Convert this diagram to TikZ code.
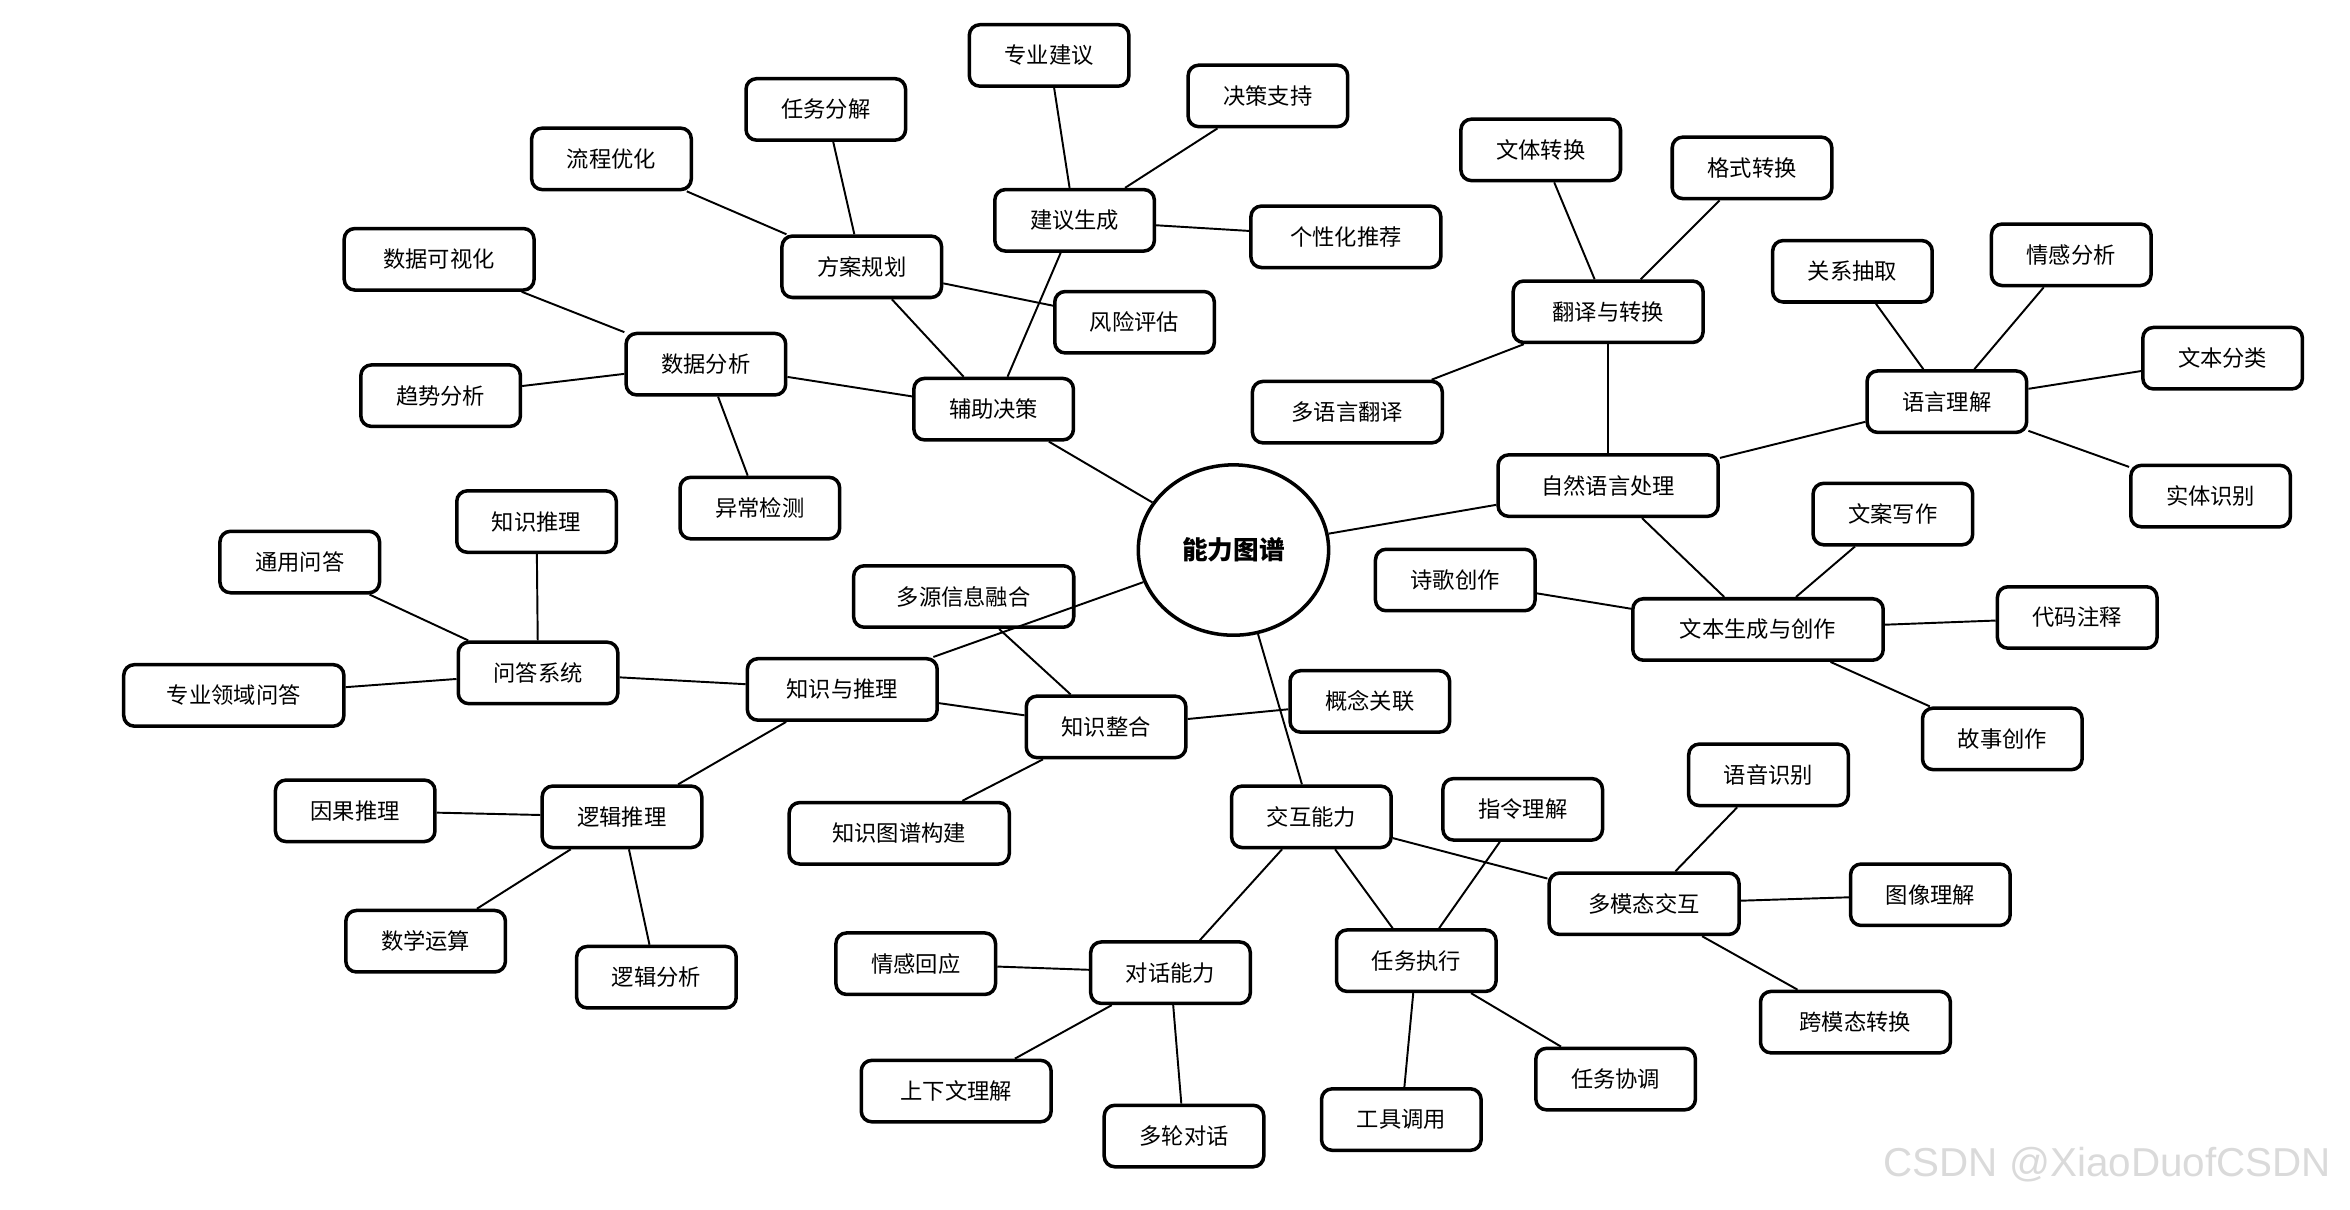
\documentclass[tikz,border=0pt]{standalone}
\usepackage{fontspec}
\setmainfont{Noto Sans CJK SC}
\newfontfamily\markfont{Liberation Sans}
\usetikzlibrary{shapes.geometric}
\definecolor{markgray}{RGB}{218,218,218}

\begin{document}
\begin{tikzpicture}[
  x=0.03cm, y=-0.03cm,
  skill/.style={draw, fill=white, line width=2pt, rounded corners=6pt, inner sep=0pt,
    minimum height=1.23cm, minimum width={0.77cm+#1*0.606cm}, font=\fontsize{12.7}{15}\selectfont},
  skill/.default=4,
  hub/.style={draw, ellipse, fill=white, line width=2pt, minimum width=3.81cm, minimum height=3.41cm,
    font=\fontsize{14.6}{17}\selectfont\bfseries},
  link/.style={line width=1.1pt}
]
\useasboundingbox (0,0) rectangle (1568,807);

% centre
\node[hub] (hub) at (823,367) {能力图谱};

% decision support
\node[skill] (decide) at (663,273) {辅助决策};
\node[skill] (advise) at (717,147) {建议生成};
\node[skill] (expert) at (700,37) {专业建议};
\node[skill] (support) at (846,64) {决策支持};
\node[skill=5] (personal) at (898,158) {个性化推荐};
\node[skill] (plan) at (575,178) {方案规划};
\node[skill] (split) at (551,73) {任务分解};
\node[skill] (flow) at (408,106) {流程优化};
\node[skill] (risk) at (757,215) {风险评估};
\node[skill] (data) at (471,243) {数据分析};
\node[skill=5] (visual) at (293,173) {数据可视化};
\node[skill] (trend) at (294,264) {趋势分析};
\node[skill] (anomaly) at (507,339) {异常检测};

% language
\node[skill=6] (nlp) at (1073,324) {自然语言处理};
\node[skill=5] (trans) at (1073,208) {翻译与转换};
\node[skill] (genre) at (1028,100) {文体转换};
\node[skill] (format) at (1169,112) {格式转换};
\node[skill=5] (multilang) at (899,275) {多语言翻译};
\node[skill] (understand) at (1299,268) {语言理解};
\node[skill] (relation) at (1236,181) {关系抽取};
\node[skill] (sentiment) at (1382,170) {情感分析};
\node[skill] (classify) at (1483,239) {文本分类};
\node[skill] (entity) at (1475,331) {实体识别};
\node[skill=7] (gen) at (1173,420) {文本生成与创作};
\node[skill] (copy) at (1263,343) {文案写作};
\node[skill] (poem) at (971,387) {诗歌创作};
\node[skill] (comment) at (1386,412) {代码注释};
\node[skill] (story) at (1336,493) {故事创作};

% knowledge
\node[skill=5] (know) at (562,460) {知识与推理};
\node[skill=6] (fusion) at (643,398) {多源信息融合};
\node[skill] (integrate) at (738,485) {知识整合};
\node[skill] (concept) at (914,468) {概念关联};
\node[skill=6] (kgbuild) at (600,556) {知识图谱构建};
\node[skill] (qa) at (359,449) {问答系统};
\node[skill] (kreason) at (358,348) {知识推理};
\node[skill] (general) at (200,375) {通用问答};
\node[skill=6] (domain) at (156,464) {专业领域问答};
\node[skill] (logic) at (415,545) {逻辑推理};
\node[skill] (causal) at (237,541) {因果推理};
\node[skill] (math) at (284,628) {数学运算};
\node[skill] (analysis) at (438,652) {逻辑分析};

% interaction
\node[skill] (interact) at (875,545) {交互能力};
\node[skill] (instr) at (1016,540) {指令理解};
\node[skill=5] (multimodal) at (1097,603) {多模态交互};
\node[skill] (speech) at (1180,517) {语音识别};
\node[skill] (image) at (1288,597) {图像理解};
\node[skill=5] (crossmodal) at (1238,682) {跨模态转换};
\node[skill] (exec) at (945,641) {任务执行};
\node[skill] (tool) at (935,747) {工具调用};
\node[skill] (coord) at (1078,720) {任务协调};
\node[skill] (dialog) at (781,649) {对话能力};
\node[skill] (emotion) at (611,643) {情感回应};
\node[skill=5] (context) at (638,728) {上下文理解};
\node[skill] (multiturn) at (790,758) {多轮对话};

% links
\draw[link] (hub) -- (decide);
\draw[link] (hub) -- (nlp);
\draw[link] (hub) -- (know);
\draw[link] (hub) -- (interact);
\draw[link] (decide) -- (advise);
\draw[link] (decide) -- (plan);
\draw[link] (decide) -- (data);
\draw[link] (advise) -- (expert);
\draw[link] (advise) -- (support);
\draw[link] (advise) -- (personal);
\draw[link] (plan) -- (split);
\draw[link] (plan) -- (flow);
\draw[link] (plan) -- (risk);
\draw[link] (data) -- (visual);
\draw[link] (data) -- (trend);
\draw[link] (data) -- (anomaly);
\draw[link] (nlp) -- (trans);
\draw[link] (nlp) -- (understand);
\draw[link] (nlp) -- (gen);
\draw[link] (trans) -- (genre);
\draw[link] (trans) -- (format);
\draw[link] (trans) -- (multilang);
\draw[link] (understand) -- (relation);
\draw[link] (understand) -- (sentiment);
\draw[link] (understand) -- (classify);
\draw[link] (understand) -- (entity);
\draw[link] (gen) -- (copy);
\draw[link] (gen) -- (poem);
\draw[link] (gen) -- (comment);
\draw[link] (gen) -- (story);
\draw[link] (know) -- (qa);
\draw[link] (know) -- (logic);
\draw[link] (know) -- (integrate);
\draw[link] (integrate) -- (fusion);
\draw[link] (integrate) -- (concept);
\draw[link] (integrate) -- (kgbuild);
\draw[link] (qa) -- (kreason);
\draw[link] (qa) -- (general);
\draw[link] (qa) -- (domain);
\draw[link] (logic) -- (causal);
\draw[link] (logic) -- (math);
\draw[link] (logic) -- (analysis);
\draw[link] (interact) -- (multimodal);
\draw[link] (interact) -- (exec);
\draw[link] (interact) -- (dialog);
\draw[link] (multimodal) -- (speech);
\draw[link] (multimodal) -- (image);
\draw[link] (multimodal) -- (crossmodal);
\draw[link] (exec) -- (instr);
\draw[link] (exec) -- (tool);
\draw[link] (exec) -- (coord);
\draw[link] (dialog) -- (emotion);
\draw[link] (dialog) -- (context);
\draw[link] (dialog) -- (multiturn);

% watermark
\node[text=markgray, font=\markfont\fontsize{23}{26}\selectfont] (mark) at (1406,777) {CSDN @XiaoDuofCSDN};
\end{tikzpicture}
\end{document}
